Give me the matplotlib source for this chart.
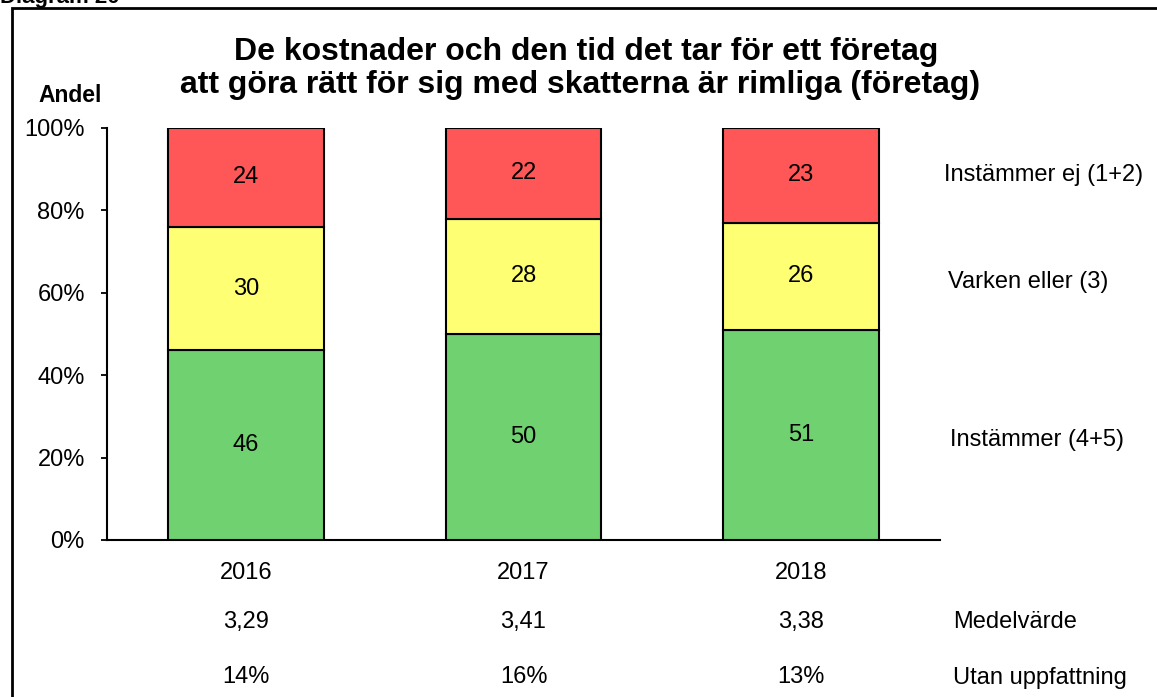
import numpy as np
import matplotlib as mpl
mpl.use("Agg")
import matplotlib.pyplot as plt
from matplotlib.patches import Rectangle
from matplotlib.transforms import blended_transform_factory

mpl.rcParams['font.family'] = ['Liberation Sans', 'DejaVu Sans']
mpl.rcParams['font.size'] = 17

#-- data
years = ['2016', '2017', '2018']
instammer = [46, 50, 51]        # (4+5)
varken = [30, 28, 26]           # (3)
instammer_ej = [24, 22, 23]     # (1+2)
medelvarde = ['3,29', '3,41', '3,38']
utan_uppfattning = ['14%', '16%', '13%']

series = [instammer, varken, instammer_ej]
series_names = ['Instämmer (4+5)', 'Varken eller (3)', 'Instämmer ej (1+2)']
colors = ['#70D170', '#FFFF73', '#FF5757']

W, H = 1157, 697
fs = 17
fig = plt.figure(figsize=(W/100, H/100), dpi=100)
ax = fig.add_axes([107/W, 1-540/H, (940-107)/W, (540-128)/H])

x = np.arange(len(years))
bottom = np.zeros(len(years))
for vals, col in zip(series, colors):
    vals = np.array(vals, dtype=float)
    ax.bar(x, vals, 0.56, bottom=bottom, color=col, edgecolor='black', linewidth=1.5, zorder=3)
    for xi, b, v in zip(x, bottom, vals):
        ax.text(xi, b + v/2, '%d' % v, ha='center', va='center', fontsize=fs, zorder=4)
    bottom += vals

ax.set_xlim(-0.5, 2.5)
ax.set_ylim(0, 100)
ax.set_yticks([0, 20, 40, 60, 80, 100])
ax.set_yticklabels(['%d%%' % t for t in [0, 20, 40, 60, 80, 100]])
ax.tick_params(axis='y', length=4, width=1.3, pad=12, labelsize=fs)
ax.set_xticks([])
for s in ['top', 'right']:
    ax.spines[s].set_visible(False)
ax.spines['left'].set_linewidth(1.5)
ax.spines['bottom'].set_linewidth(1.5)

#-- rows under the bars
trans = blended_transform_factory(ax.transData, ax.transAxes)
for xi, yr, m, u in zip(x, years, medelvarde, utan_uppfattning):
    ax.text(xi, -(573-540)/412, yr, transform=trans, ha='center', va='center', fontsize=fs)
    ax.text(xi, -(622-540)/412, m, transform=trans, ha='center', va='center', fontsize=fs)
    ax.text(xi, -(677-540)/412, u, transform=trans, ha='center', va='center', fontsize=fs)

fig.text(953/W, 1-622/H, 'Medelvärde', ha='left', va='center', fontsize=fs)
fig.text(953/W, 1-678/H, 'Utan uppfattning', ha='left', va='center', fontsize=fs)

#-- series labels on the right
label_pos = [(950, 440), (948, 282), (944, 175)]
for name, (px, py) in zip(series_names, label_pos):
    fig.text(px/W, 1-py/H, name, ha='left', va='center', fontsize=fs)

#-- title, two lines
fig.text(586/W, 1-60/H, 'De kostnader och den tid det tar för ett företag',
         ha='center', va='baseline', fontsize=23, fontweight='bold')
fig.text(580/W, 1-93/H, 'att göra rätt för sig med skatterna är rimliga (företag)',
         ha='center', va='baseline', fontsize=23, fontweight='bold')
fig.text(70/W, 1-96/H, 'Andel', ha='center', va='center', fontsize=16.5, fontweight='bold')
fig.text(0, 1-3/H, 'Diagram 20', ha='left', va='baseline', fontsize=16, fontweight='bold')

#-- frame around the chart
fig.patches.append(Rectangle((12/W, -0.1), 1.2, 1.1 - 8/H, transform=fig.transFigure,
                             fill=False, edgecolor='black', linewidth=2))

fig.savefig('out.png', dpi=100)
